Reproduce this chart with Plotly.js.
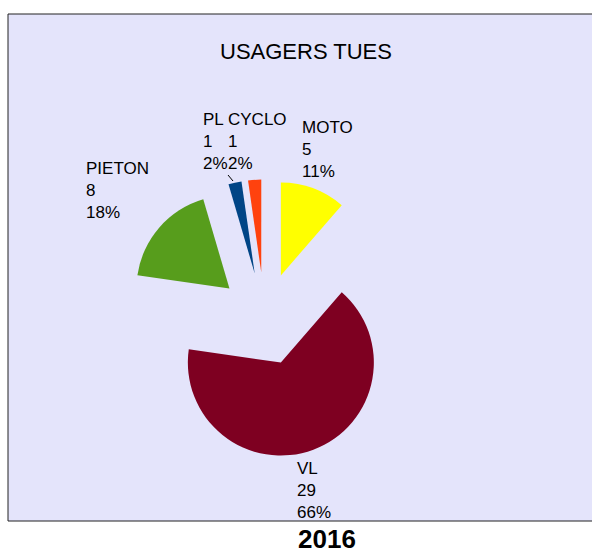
<!DOCTYPE html>
<html>
<head>
<meta charset="utf-8">
<script src="https://cdn.plot.ly/plotly-3.0.1.min.js"></script>
<style>
  html, body { margin: 0; padding: 0; background: #fff; }
  #chart { width: 592px; height: 554px; }
</style>
</head>
<body>
<div id="chart"></div>
<script>
  const categories = ["MOTO", "VL", "PIETON", "PL", "CYCLO"];
  const counts = [5, 29, 8, 1, 1];
  const sliceColors = ["#ffff00", "#7e0021", "#579d1c", "#004586", "#ff420e"];
  const chartTitle = "USAGERS TUES";
  const yearLabel = "2016";

  // where each data label sits (left edge, middle line), in pixels
  const labelPos = [
    [301, 149],
    [296, 490],
    [85, 190],
    [202, 141],
    [227, 141],
  ];

  const W = 592, H = 554;
  const font = "Liberation Sans, Arial, sans-serif";
  const total = counts.reduce((a, b) => a + b, 0);

  const trace = {
    type: "pie",
    labels: categories,
    values: counts,
    sort: false,
    direction: "clockwise",
    rotation: 0,
    pull: categories.map(() => 0.5),
    marker: { colors: sliceColors, line: { width: 0 } },
    textinfo: "none",
    hoverinfo: "none",
    showlegend: false,
    domain: { x: [0.2113, 0.6826], y: [0.1724, 0.676] },
  };

  const labelNotes = categories.map((c, i) => ({
    text: c + "<br>" + counts[i] + "<br>" + Math.round((counts[i] / total) * 100) + "%",
    xref: "paper",
    yref: "paper",
    x: labelPos[i][0] / W,
    y: 1 - labelPos[i][1] / H,
    xanchor: "left",
    yanchor: "middle",
    align: "left",
    borderpad: 0,
    showarrow: false,
    font: { family: font, size: 17, color: "#000" },
  }));

  const layout = {
    width: W,
    height: H,
    margin: { l: 0, r: 0, t: 0, b: 0 },
    paper_bgcolor: "#ffffff",
    font: { family: font, color: "#000" },
    title: {
      text: chartTitle,
      font: { family: font, size: 22, color: "#000" },
      x: 306 / W,
      xanchor: "center",
      y: 1 - 51 / H,
      yanchor: "middle",
    },
    shapes: [
      {
        type: "rect",
        xref: "paper",
        yref: "paper",
        x0: 8 / W,
        x1: 1.02,
        y0: 1 - 521 / H,
        y1: 1 - 14 / H,
        fillcolor: "#e4e4fb",
        line: { color: "#222", width: 1 },
        layer: "below",
      },
      {
        type: "line",
        xref: "paper",
        yref: "paper",
        x0: 228 / W,
        y0: 1 - 175 / H,
        x1: 233 / W,
        y1: 1 - 181 / H,
        line: { color: "#000", width: 1 },
      },
    ],
    annotations: labelNotes.concat([
      {
        text: "<b>" + yearLabel + "</b>",
        xref: "paper",
        yref: "paper",
        x: 327 / W,
        y: 1 - 539 / H,
        xanchor: "center",
        yanchor: "middle",
        borderpad: 0,
        showarrow: false,
        font: { family: font, size: 26, color: "#000" },
      },
    ]),
  };

  Plotly.newPlot("chart", [trace], layout, { displayModeBar: false, staticPlot: true });
</script>
</body>
</html>
